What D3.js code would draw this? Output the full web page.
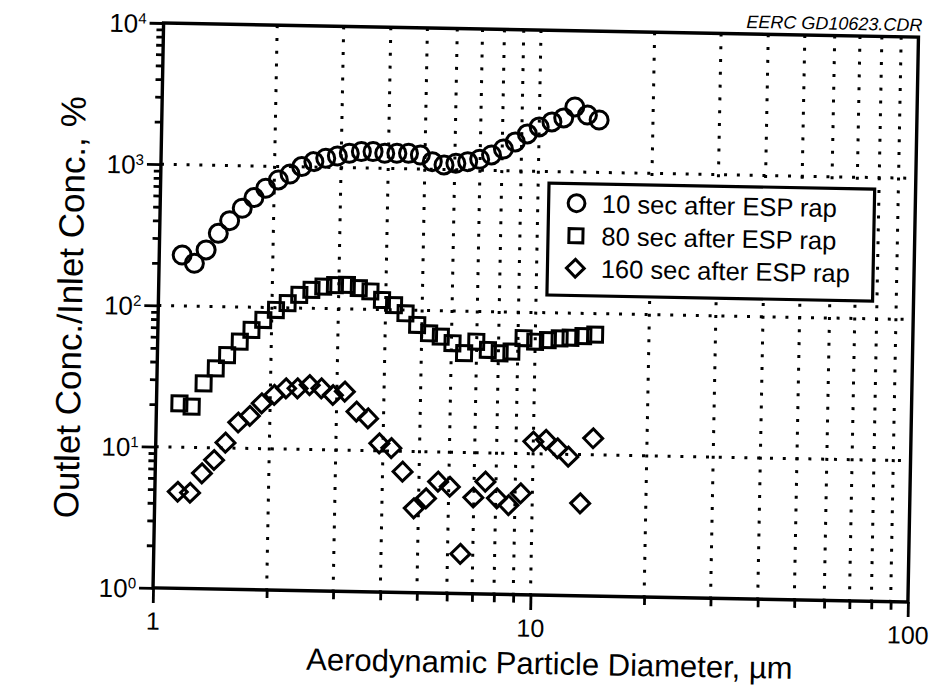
<!DOCTYPE html>
<html><head><meta charset="utf-8">
<script src="https://cdn.jsdelivr.net/npm/d3@7"></script>
<style>body{margin:0;background:#fff} svg{display:block} text{font-family:"Liberation Sans",Arial,Helvetica,sans-serif;fill:#000}</style>
</head><body><svg id="chart" width="932" height="685"></svg>
<script>
// ---- data ----
const diameters = [1.15,1.24,1.33,1.43,1.53,1.65,1.77,1.90,2.05,2.20,2.36,2.54,2.73,2.93,3.15,3.39,3.64,3.91,4.21,4.52,4.86,5.23,5.62,6.04,6.49,6.98,7.50,8.06,8.66,9.31,10.0,10.8,11.6,12.4,13.4,14.4];
const tenSec = [229,201,251,330,407,500,597,698,802,887,1004,1093,1159,1207,1265,1306,1310,1280,1284,1288,1259,1133,1077,1111,1145,1195,1286,1422,1602,1833,2061,2246,2405,2885,2542,2350];
const eightySec = [20.4,19.4,28.5,36.5,45.5,56.8,69.0,81.5,96.3,108,124,135,143,147,148,141,134,117,108,94.9,78.7,69.0,65.5,59.1,50.4,61.0,53.5,50.9,52.5,65.5,62.1,64,66,67,69,71];
const oneSixtySec = [4.83,4.77,6.57,8.19,10.9,15.2,17.0,20.9,24.1,26.9,27.0,28.6,27.2,24.5,26.0,18.8,16.9,11.3,10.5,7.17,3.96,4.68,6.16,5.69,1.91,4.81,6.25,4.78,4.30,5.22,12.2,12.6,11.0,9.63,4.52,13.1];
const seriesNames = ["10 sec after ESP rap","80 sec after ESP rap","160 sec after ESP rap"];
const seriesSymbols = ["circle","square","diamond"];
const xMajorTicks = [1,10,100];
const xTickLabels = ["1","10","100"];
const yMajorTicks = [1,10,100,1000,10000];
const yExponents = ["0","1","2","3","4"];
const gridX = [2,3,4,5,6,7,8,9,10,20,30,40,50,60,70,80,90];
const gridY = [10,100,1000];
const stamp = "EERC GD10623.CDR";
const xTitle = "Aerodynamic Particle Diameter, \u00b5m";
const yTitle = "Outlet Conc./Inlet Conc., %";

// ---- layout ----
const L = 158.25, R = 913.25, T = 30, B = 595;
const svg = d3.select("#chart");
svg.append("rect").attr("width", 932).attr("height", 685).attr("fill", "#fff");
const g = svg.append("g").attr("transform", "rotate(1.07,535.75,312.5)");

const x = d3.scaleLog().domain([1, 100]).range([L, R]);
const y = d3.scaleLog().domain([1, 10000]).range([B, T]);

// grid
const dash = "3,9.8";
g.append("g").selectAll("line").data(gridX).join("line")
  .attr("x1", d => x(d)).attr("x2", d => x(d)).attr("y1", T).attr("y2", B)
  .attr("stroke", "#000").attr("stroke-width", 3).attr("stroke-dasharray", dash);
g.append("g").selectAll("line").data(gridY).join("line")
  .attr("y1", d => y(d)).attr("y2", d => y(d)).attr("x1", L).attr("x2", R)
  .attr("stroke", "#000").attr("stroke-width", 3).attr("stroke-dasharray", dash);

// markers
const symPath = {
  circle: d3.symbol(d3.symbolCircle, Math.PI * 9 * 9),
  square: d3.symbol(d3.symbolSquare, 15 * 15),
  diamond: d3.symbol(d3.symbolSquare, 13.4 * 13.4)
};
const series = [tenSec, eightySec, oneSixtySec];
series.forEach((vals, i) => {
  const kind = seriesSymbols[i];
  g.append("g").selectAll("path").data(vals).join("path")
    .attr("d", symPath[kind]())
    .attr("transform", (v, j) => `translate(${x(diameters[j])},${y(v)})` + (kind === "diamond" ? " rotate(45)" : ""))
    .attr("fill", "none").attr("stroke", "#000").attr("stroke-width", 3);
});

// axes
function styleAxis(sel) {
  sel.select(".domain").remove();
  sel.selectAll(".tick line").attr("stroke", "#000").attr("stroke-width", 2.8);
}
const xMinorVals = x.ticks().filter(v => !xMajorTicks.includes(v));
g.append("g").attr("transform", `translate(0,${B})`)
  .call(d3.axisBottom(x).tickValues(xMinorVals).tickSize(8).tickFormat(""))
  .call(styleAxis);
g.append("g").attr("transform", `translate(0,${B})`)
  .call(d3.axisBottom(x).tickValues(xMajorTicks).tickSize(15).tickPadding(9)
    .tickFormat((d, i) => xTickLabels[i]))
  .call(styleAxis)
  .call(s => s.selectAll("text").attr("font-size", 25).attr("font-family", null));

const yMinorVals = y.ticks().filter(v => !yMajorTicks.includes(v));
g.append("g").attr("transform", `translate(${L},0)`)
  .call(d3.axisLeft(y).tickValues(yMinorVals).tickSize(7).tickFormat(""))
  .call(styleAxis);
const yAx = g.append("g").attr("transform", `translate(${L},0)`)
  .call(d3.axisLeft(y).tickValues(yMajorTicks).tickSize(14).tickPadding(3).tickFormat(() => ""))
  .call(styleAxis);
yAx.selectAll(".tick text").each(function (d, i) {
  const t = d3.select(this).attr("font-size", 26).attr("font-family", null).attr("dy", "0.36em");
  t.append("tspan").text("10");
  t.append("tspan").attr("dy", -9).attr("font-size", 15).text(yExponents[i]);
});

// frame
g.append("rect").attr("x", L).attr("y", T).attr("width", R - L).attr("height", B - T)
  .attr("fill", "none").attr("stroke", "#000").attr("stroke-width", 3.4);

// legend
const lg = g.append("g");
lg.append("rect").attr("x", 546.6).attr("y", 182.8).attr("width", 325.7).attr("height", 112)
  .attr("fill", "#fff").attr("stroke", "#000").attr("stroke-width", 3.2);
const legSym = {
  circle: d3.symbol(d3.symbolCircle, Math.PI * 8.4 * 8.4),
  square: d3.symbol(d3.symbolSquare, 14 * 14),
  diamond: d3.symbol(d3.symbolSquare, 12.6 * 12.6)
};
seriesNames.forEach((name, i) => {
  const cy = 202.5 + i * 32.5;
  const kind = seriesSymbols[i];
  lg.append("path").attr("d", legSym[kind]())
    .attr("transform", `translate(574.5,${cy})` + (kind === "diamond" ? " rotate(45)" : ""))
    .attr("fill", "none").attr("stroke", "#000").attr("stroke-width", 3);
  lg.append("text").attr("x", 600).attr("y", cy + 9).attr("font-size", 25.5).text(name);
});

// stamp and titles
g.append("text").attr("x", 917).attr("y", 24).attr("text-anchor", "end")
  .attr("font-size", 18).attr("font-style", "italic").text(stamp);
g.append("text").attr("x", 556).attr("y", 674).attr("text-anchor", "middle")
  .attr("font-size", 31).text(xTitle);
g.append("text").attr("transform", "translate(82,316) rotate(-90)").attr("text-anchor", "middle")
  .attr("font-size", 35).text(yTitle);
</script>
</body></html>
